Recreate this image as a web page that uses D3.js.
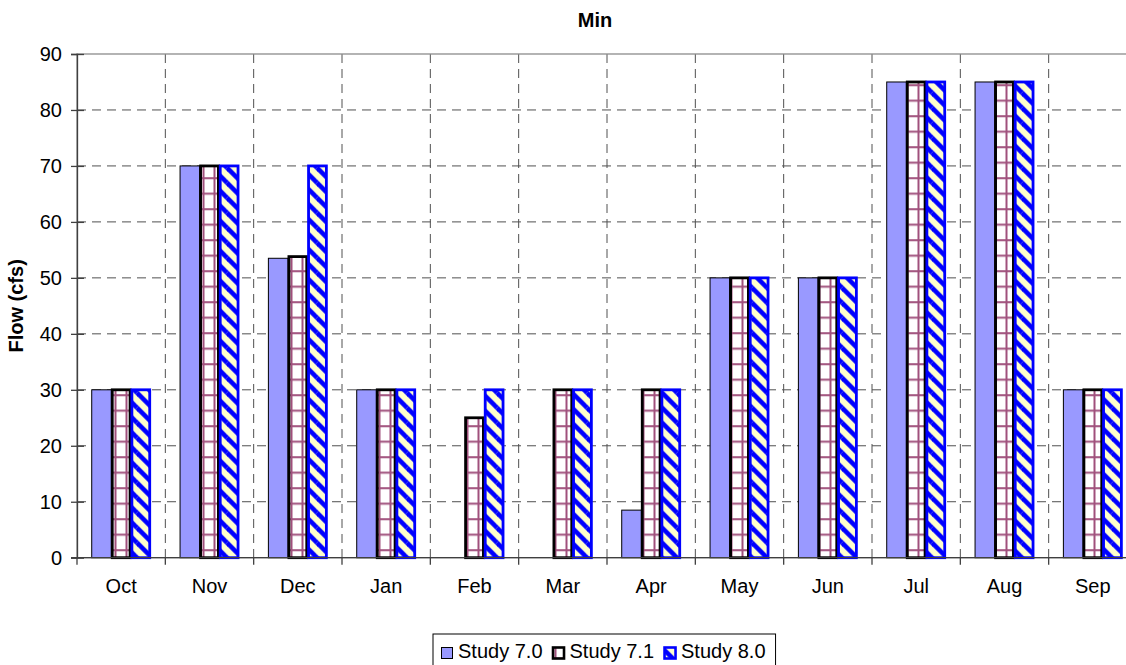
<!DOCTYPE html>
<html>
<head>
<meta charset="utf-8">
<script src="https://cdn.jsdelivr.net/npm/d3@7"></script>
<style>
  html, body { margin: 0; padding: 0; background: #fff; }
  svg { display: block; font-family: "Liberation Sans", Arial, sans-serif; }
</style>
</head>
<body>
<svg id="chart" width="1126" height="665"></svg>
<script>
const months = ["Oct","Nov","Dec","Jan","Feb","Mar","Apr","May","Jun","Jul","Aug","Sep"];
const seriesNames = ["Study 7.0","Study 7.1","Study 8.0"];
const study70 = [30, 70, 53.5, 30, 0, 0, 8.5, 50, 50, 85, 85, 30];
const study71 = [30, 70, 53.8, 30, 25, 30, 30, 50, 50, 85, 85, 30];
const study80 = [30, 70, 70, 30, 30, 30, 30, 50, 50, 85, 85, 30];
const yTicks = [0,10,20,30,40,50,60,70,80,90];
const titleText = "Min";
const yLabelText = "Flow (cfs)";

const seriesValues = [study70, study71, study80];

const svg = d3.select("#chart");
const pLeft = 77, pRight = 1137, pTop = 54, pBottom = 557.7;

// patterns
const defs = svg.append("defs");
const pGrid = defs.append("pattern").attr("id","grid71").attr("patternUnits","userSpaceOnUse")
  .attr("width",11).attr("height",15.5).attr("x",pLeft).attr("y",pBottom);
pGrid.append("rect").attr("width",11).attr("height",15.5).attr("fill","#fff");
pGrid.append("rect").attr("x",4.5).attr("y",0).attr("width",2).attr("height",15.5).attr("fill","#a0507c");
pGrid.append("rect").attr("x",0).attr("y",7).attr("width",11).attr("height",2).attr("fill","#a0507c");

const P = 15;
const pDiag = defs.append("pattern").attr("id","diag80").attr("patternUnits","userSpaceOnUse")
  .attr("width",P).attr("height",P).attr("x",pLeft).attr("y",pBottom);
pDiag.append("rect").attr("width",P).attr("height",P).attr("fill","#ffffcc");
[[-P,-P],[0,0],[P,P],[-P,0],[0,-P],[P,0],[0,P]].forEach(([dx,dy]) => {
  pDiag.append("line").attr("x1",dx).attr("y1",dy).attr("x2",dx+P).attr("y2",dy+P)
    .attr("stroke","#0000ff").attr("stroke-width",4.6);
});

const fills = ["#9999ff","url(#grid71)","url(#diag80)"];
const strokes = ["#000","#000","#0000ff"];
const strokeW = [1,2.8,2.8];

const x0 = d3.scaleBand().domain(months).range([pLeft,pRight]).paddingInner(0).paddingOuter(0);
const x1 = d3.scaleBand().domain(seriesNames).range([0,x0.bandwidth()]).paddingInner(0).paddingOuter(0.75);
const y = d3.scaleLinear().domain([0,90]).range([pBottom,pTop]);

// gridlines
const gridG = svg.append("g");
gridG.selectAll("line.h").data(yTicks.filter(t => t>0 && t<90)).enter().append("line")
  .attr("x1",pLeft).attr("x2",pRight).attr("y1",d=>y(d)).attr("y2",d=>y(d))
  .attr("stroke","#505050").attr("stroke-width",1).attr("stroke-dasharray","9,6");
gridG.selectAll("line.v").data(months.slice(1)).enter().append("line")
  .attr("x1",d=>x0(d)).attr("x2",d=>x0(d)).attr("y1",pTop).attr("y2",pBottom)
  .attr("stroke","#505050").attr("stroke-width",1).attr("stroke-dasharray","9,6");

// border
svg.append("rect").attr("x",pLeft).attr("y",pTop).attr("width",pRight-pLeft).attr("height",pBottom-pTop)
  .attr("fill","none").attr("stroke","#8c8c8c").attr("stroke-width",1.3);

// bars
const barsG = svg.append("g");
seriesNames.forEach((s,si) => {
  barsG.append("g").selectAll("rect").data(months.map((m,i)=>({m, v: seriesValues[si][i]})).filter(d=>d.v>0))
    .enter().append("rect")
    .attr("x", d => x0(d.m) + x1(s) + (si>0 ? strokeW[si]/2 - 0.5 : 0))
    .attr("width", x1.bandwidth() - (si>0 ? strokeW[si] - 1 : 0))
    .attr("y", d => y(d.v))
    .attr("height", d => pBottom - y(d.v))
    .attr("fill", fills[si]).attr("stroke", strokes[si]).attr("stroke-width", strokeW[si]);
});

// y axis
const yAxis = svg.append("g").attr("transform",`translate(${pLeft},0)`)
  .call(d3.axisLeft(y).tickValues(yTicks).tickSize(6).tickPadding(9));
yAxis.select(".domain").attr("stroke","#404040").attr("stroke-width",1.3);
yAxis.selectAll(".tick line").attr("x1",7).attr("stroke","#404040").attr("stroke-width",1.3);
yAxis.selectAll(".tick text").attr("font-size",20).attr("fill","#000")
  .attr("font-family","'Liberation Sans', Arial, sans-serif");

// x axis
const xAxisG = svg.append("g").attr("transform",`translate(0,${pBottom})`);
xAxisG.append("line").attr("x1",pLeft-6).attr("x2",pRight).attr("y1",0).attr("y2",0)
  .attr("stroke","#404040").attr("stroke-width",1.3);
const boundaries = months.map(m => x0(m)).concat([pRight]);
xAxisG.selectAll("line.t").data(boundaries).enter().append("line")
  .attr("x1",d=>d).attr("x2",d=>d).attr("y1",0).attr("y2",7)
  .attr("stroke","#404040").attr("stroke-width",1.3);
xAxisG.selectAll("text").data(months).enter().append("text")
  .attr("x", d => x0(d) + x0.bandwidth()/2).attr("y", 35.5)
  .attr("text-anchor","middle").attr("font-size",20).attr("fill","#000").text(d=>d);

// title
svg.append("text").attr("x",595).attr("y",27).attr("text-anchor","middle")
  .attr("font-size",20).attr("font-weight","bold").text(titleText);

// y label
svg.append("text").attr("transform",`translate(23,${(pTop+pBottom)/2}) rotate(-90)`)
  .attr("text-anchor","middle").attr("font-size",20).attr("font-weight","bold").text(yLabelText);

// legend
const legG = svg.append("g");
const legBox = legG.append("rect").attr("x",433).attr("y",634).attr("height",50)
  .attr("fill","#fff").attr("stroke","#000").attr("stroke-width",1);
let lx = 441;
seriesNames.forEach((s,si) => {
  legG.append("rect").attr("x",lx+0.5).attr("y",647.5).attr("width",11).attr("height",11)
    .attr("fill", fills[si]).attr("stroke", strokes[si]).attr("stroke-width", si===0 ? 1 : 2.6);
  const t = legG.append("text").attr("x",lx+17).attr("y",657.5).attr("font-size",20).text(s);
  lx += 17 + t.node().getComputedTextLength() + 10;
});
legBox.attr("width", lx - 433);
</script>
</body>
</html>
